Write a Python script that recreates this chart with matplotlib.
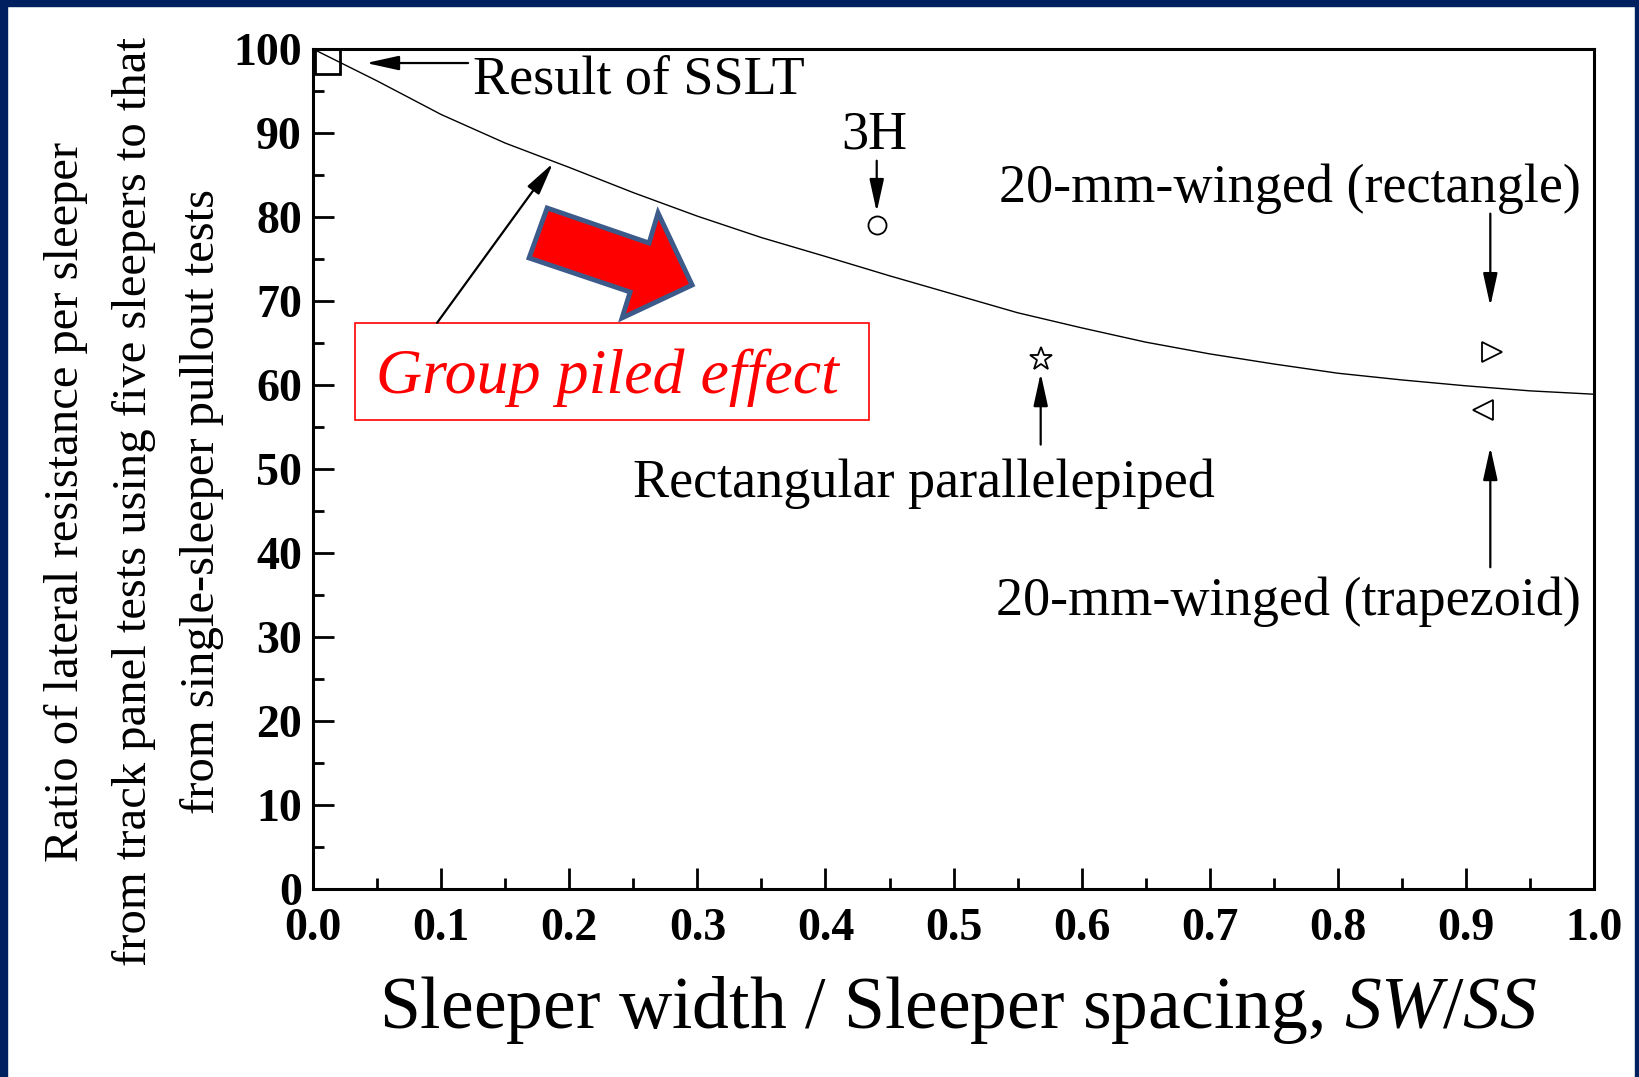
import numpy as np
import matplotlib
matplotlib.use("Agg")
import matplotlib.pyplot as plt
from matplotlib.patches import Polygon, Rectangle

plt.rcParams['font.family'] = ['Liberation Serif', 'DejaVu Serif']
plt.rcParams['mathtext.fontset'] = 'custom'
plt.rcParams['mathtext.rm'] = 'Liberation Serif'
plt.rcParams['mathtext.it'] = 'Liberation Serif:italic'

# fitted curve
curve_x = [0.0, 0.05, 0.1, 0.15, 0.2, 0.25, 0.3, 0.35, 0.4, 0.45, 0.5,
           0.55, 0.6, 0.65, 0.7, 0.75, 0.8, 0.85, 0.9, 0.95, 1.0]
curve_y = [100.0, 96.2, 92.2, 88.8, 85.9, 82.9, 80.1, 77.55, 75.3, 73.0, 70.8,
           68.6, 66.8, 65.1, 63.7, 62.5, 61.4, 60.6, 59.9, 59.3, 58.9]

# measured points
sslt_x, sslt_y = 0.0105, 98.55
h3_x, h3_y = 0.44, 79.0
rect_par_x, rect_par_y = 0.568, 63.1
wing_rect_x, wing_rect_y = 0.92, 63.9
wing_trap_x, wing_trap_y = 0.913, 57.0

# big red block arrow outline
block_x = [0.1827, 0.2623, 0.2693, 0.2959, 0.2412, 0.2475, 0.1686]
block_y = [81.07, 76.90, 80.48, 71.90, 67.98, 71.07, 75.12]

x_ticks = np.arange(0, 1.01, 0.1)
y_ticks = np.arange(0, 101, 10)

fig = plt.figure(figsize=(16.4, 10.77), dpi=100)
ax = fig.add_axes([0.1909, 0.1746, 0.7811, 0.7799])

ax.plot(curve_x, curve_y, color='black', lw=1.0)

mk = dict(mfc='none', mec='black', mew=1.3, ls='none', clip_on=False)
ax.plot([sslt_x], [sslt_y], marker='s', ms=18, mew=2, mfc='none', mec='black', ls='none', clip_on=False)
ax.plot([h3_x], [h3_y], marker='o', ms=13, **mk)
ax.plot([rect_par_x], [rect_par_y], marker='*', ms=17, **mk)
ax.plot([wing_rect_x], [wing_rect_y], marker='>', ms=14, **mk)
ax.plot([wing_trap_x], [wing_trap_y], marker='<', ms=14, **mk)

ap = dict(arrowstyle='-|>,head_length=1.0,head_width=0.22', color='black',
          lw=1.6, mutation_scale=20, shrinkA=0, shrinkB=0)
fs = 39

# Result of SSLT
ax.annotate('', xy=(0.0414, 98.33), xytext=(0.121, 98.33), arrowprops=ap)
ax.text(0.125, 94.76, 'Result of SSLT', fontsize=fs, ha='left', va='baseline')

# 3H
ax.annotate('', xy=(0.44, 80.6), xytext=(0.44, 86.7), arrowprops=ap)
ax.text(0.438, 88.1, '3H', fontsize=fs, ha='center', va='baseline')

# 20-mm-winged rectangle
ax.annotate('', xy=(0.919, 69.4), xytext=(0.919, 80.4), arrowprops=ap)
ax.text(0.990, 81.8, '20-mm-winged (rectangle)', fontsize=fs, ha='right', va='baseline')

# 20-mm-winged trapezoid
ax.annotate('', xy=(0.919, 52.6), xytext=(0.919, 38.3), arrowprops=ap)
ax.text(0.990, 32.6, '20-mm-winged (trapezoid)', fontsize=fs, ha='right', va='baseline')

# rectangular parallelepiped
ax.annotate('', xy=(0.568, 61.4), xytext=(0.568, 52.9), arrowprops=ap)
ax.text(0.477, 46.7, 'Rectangular parallelepiped', fontsize=fs, ha='center', va='baseline')

# group piled effect
ax.annotate('', xy=(0.1873, 86.4), xytext=(0.0968, 67.4), arrowprops=ap)
ax.add_patch(Rectangle((0.0328, 55.8), 0.401, 11.6, fill=False, edgecolor='red', lw=1.2))
ax.text(0.2299, 59.05, 'Group piled effect', fontsize=46, style='italic', color='red',
        ha='center', va='baseline')
ax.add_patch(Polygon(np.column_stack([block_x, block_y]), closed=True, facecolor='#ff0000',
                     edgecolor='#3c5a8a', lw=3.5, joinstyle='miter'))

ax.set_xlim(0, 1.0)
ax.set_ylim(0, 100)
ax.set_xticks(x_ticks)
ax.set_xticklabels([f"{v:.1f}" for v in x_ticks])
ax.set_yticks(y_ticks)
ax.set_yticklabels([f"{int(v)}" for v in y_ticks])
ax.set_xticks(np.arange(0.05, 1.0, 0.1), minor=True)
ax.set_yticks(np.arange(5, 100, 10), minor=True)
ax.tick_params(which='major', direction='in', length=15, width=2, top=False, right=False)
ax.tick_params(which='minor', direction='in', length=8, width=2, top=False, right=False)
ax.tick_params(axis='x', which='major', pad=14)
ax.tick_params(axis='y', which='major', pad=8)
for lab in ax.get_xticklabels() + ax.get_yticklabels():
    lab.set_fontsize(33)
    lab.set_fontweight('bold')
for s in ax.spines.values():
    s.set_linewidth(2.2)

fig.text(958 / 1640, 1 - 1010 / 1077, r"Sleeper width / Sleeper spacing, $\mathit{SW/SS}$",
         fontsize=53, ha='center', va='center')
fig.text(134 / 1640, 1 - 502 / 1077,
         "Ratio of lateral resistance per sleeper\n"
         "from track panel tests using five sleepers to that\n"
         "from single-sleeper pullout tests",
         fontsize=35, rotation=90, ha='center', va='center', multialignment='center',
         linespacing=1.72)

# navy frame
navy = '#002060'
fig.patches.append(Rectangle((0, 1 - 6 / 1077), 1, 6 / 1077, transform=fig.transFigure,
                             color=navy, zorder=10))
fig.patches.append(Rectangle((0, 0), 7 / 1640, 1, transform=fig.transFigure, color=navy, zorder=10))
fig.patches.append(Rectangle((1 - 5 / 1640, 0), 5 / 1640, 1, transform=fig.transFigure,
                             color=navy, zorder=10))

fig.savefig('out.png', dpi=100)
